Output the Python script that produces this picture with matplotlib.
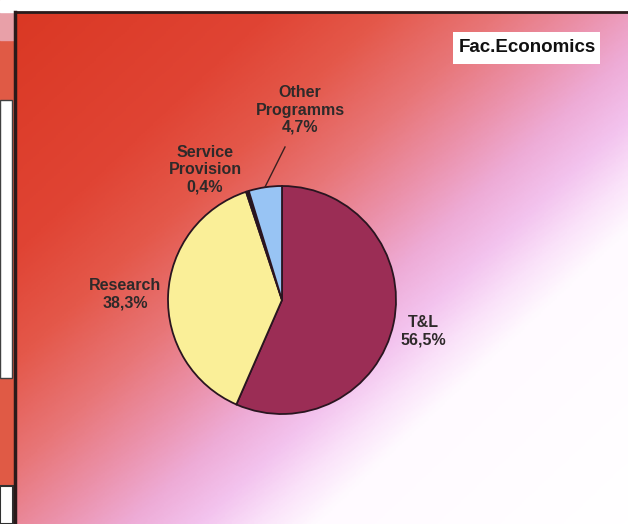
import numpy as np
import matplotlib.pyplot as plt
from matplotlib.colors import LinearSegmentedColormap
from matplotlib.patches import Rectangle

plt.rcParams['font.family'] = ['Liberation Sans', 'DejaVu Sans']

# data
categories = ['T&L', 'Research', 'Service\nProvision', 'Other\nProgramms']
shares = [56.5, 38.3, 0.4, 4.7]
share_labels = ['56,5%', '38,3%', '0,4%', '4,7%']
colors = ['#9b2d55', '#faef98', '#1e1a1e', '#98c4f4']
# label centres in pixel coords (x, y from top)
label_pos = [(423, 331), (125, 294), (205, 170), (300, 110)]

W, H = 628, 524
fig = plt.figure(figsize=(W / 100, H / 100), dpi=100)
ax = fig.add_axes([0, 0, 1, 1])

# gradient background: red top-left -> pink -> lavender -> white bottom-right
stops = [
    (0.0, (218, 56, 36)),
    (0.22, (224, 68, 52)),
    (0.32, (228, 88, 74)),
    (0.42, (232, 118, 120)),
    (0.50, (235, 145, 170)),
    (0.57, (238, 172, 215)),
    (0.63, (243, 195, 238)),
    (0.68, (250, 225, 249)),
    (0.73, (255, 250, 255)),
    (1.0, (255, 255, 255)),
]
bg = LinearSegmentedColormap.from_list('bg', [(p, tuple(c / 255 for c in rgb)) for p, rgb in stops])
xx, yy = np.meshgrid(np.linspace(0, 1, 300), np.linspace(0, 1, 300))
t = 0.53 * xx + 0.47 * yy
ax.imshow(t, cmap=bg, vmin=0, vmax=1, extent=(15, W, 0, H - 12),
          origin='upper', aspect='auto', zorder=0)

# left neighbour panel remnants
ax.add_patch(Rectangle((0, 0), 15, H, color='#e05a45', zorder=0))
ax.add_patch(Rectangle((0, H - 40), 15, 30, color='#e8a0a8', zorder=0))
ax.add_patch(Rectangle((0, H - 378), 12, 278, facecolor='white', edgecolor='#404040', lw=1, zorder=1))
ax.add_patch(Rectangle((0, 0), 13, 38, facecolor='white', edgecolor='#303030', lw=1.5, zorder=1))
ax.add_patch(Rectangle((0, H - 12), W, 12, color='white', zorder=1))
ax.plot([15, W], [H - 12, H - 12], color='#2a1a1a', lw=2, zorder=2)
ax.plot([15, 15], [0, H - 12], color='#2a1a1a', lw=2.5, zorder=2)

# pie
wedges, _ = ax.pie(shares, colors=colors, startangle=90, counterclock=False,
                   center=(282, H - 300), radius=114, frame=True,
                   wedgeprops=dict(edgecolor='#2a1520', linewidth=1.3))
for w in wedges:
    w.set_zorder(3)
ax.set_xlim(0, W)
ax.set_ylim(0, H)
ax.set_aspect('auto')
ax.axis('off')

for name, pct, (x, y) in zip(categories, share_labels, label_pos):
    ax.text(x, H - y, name + '\n' + pct, ha='center', va='center',
            fontsize=11.5, fontweight='bold', color='#2e2a2a', linespacing=1.2, zorder=4)

# leader line for the small slice
ax.plot([285, 265], [H - 147, H - 187], color='#3a2020', lw=1, zorder=4)

# title box
ax.add_patch(Rectangle((453, H - 64), 147, 32, facecolor='white', edgecolor='none', zorder=4))
ax.text(527, H - 48, 'Fac.Economics', ha='center', va='center', fontsize=13.5,
        fontweight='bold', color='#111111', zorder=5)

fig.savefig('out.png', dpi=100)
